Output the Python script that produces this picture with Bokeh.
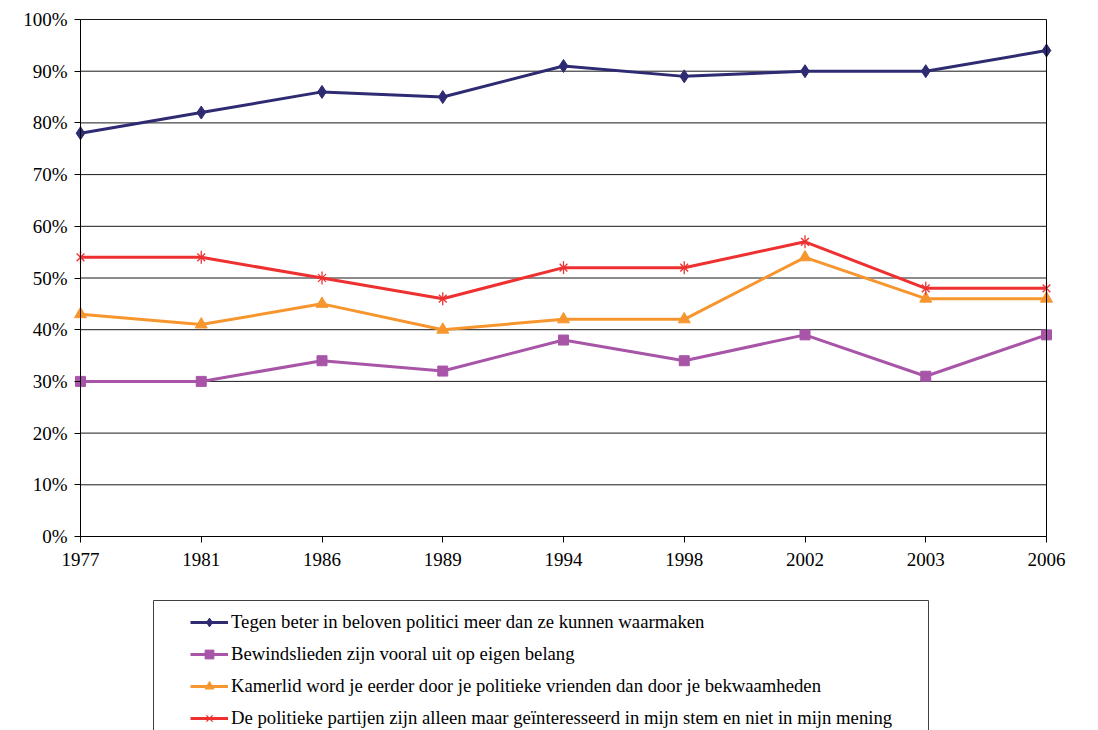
import numpy as np
from bokeh.plotting import figure
from bokeh.models import FixedTicker, Legend, LegendItem, BoxAnnotation, LinearAxis
from bokeh.embed import file_html
from bokeh.resources import INLINE

# Survey years (equally spaced categories on the x axis)
years = ["1977", "1981", "1986", "1989", "1994", "1998", "2002", "2003", "2006"]

# Share agreeing with each statement, in percent
beloven = [78, 82, 86, 85, 91, 89, 90, 90, 94]
eigen_belang = [30, 30, 34, 32, 38, 34, 39, 31, 39]
vrienden = [43, 41, 45, 40, 42, 42, 54, 46, 46]
stem = [54, 54, 50, 46, 52, 52, 57, 48, 48]

statements = [
    "Tegen beter in beloven politici meer dan ze kunnen waarmaken",
    "Bewindslieden zijn vooral uit op eigen belang",
    "Kamerlid word je eerder door je politieke vrienden dan door je bekwaamheden",
    "De politieke partijen zijn alleen maar geïnteresseerd in mijn stem en niet in mijn mening",
]

y_ticks = list(range(0, 101, 10))

FONT = "Liberation Serif"
W, H = 1098, 730
# pixel box of the plotting area inside the page
PL, PR, PT, PB = 80, 1046, 19, 536

x = np.arange(len(years))
n_last = len(years) - 1

# The frame covers the whole canvas so that markers at the edges and the
# legend below are not clipped; ranges are set so the data area sits in the box.
xu = (PR - PL) / n_last
yu = (PB - PT) / 100.0
x_range = (-PL / xu, n_last + (W - PR) / xu)
y_range = (-(H - PB) / yu, 100 + PT / yu)

p = figure(
    width=W, height=H,
    x_range=x_range, y_range=y_range,
    x_axis_type=None, y_axis_type=None,
    output_backend="svg", toolbar_location=None,
    min_border=0,
)
p.background_fill_color = "white"
p.border_fill_color = "white"
p.outline_line_color = None
p.xgrid.visible = False
p.ygrid.visible = False


def style_axis(ax):
    ax.axis_line_color = "black"
    ax.axis_line_width = 1
    ax.major_tick_line_color = "black"
    ax.major_tick_out = 6
    ax.major_tick_in = 0
    ax.minor_tick_line_color = None
    ax.major_label_text_font = FONT
    ax.major_label_text_font_size = "19px"
    ax.major_label_text_color = "black"


xaxis = LinearAxis(fixed_location=0, bounds=(0, n_last),
                   ticker=FixedTicker(ticks=list(x)),
                   major_label_overrides={int(i): y for i, y in zip(x, years)})
style_axis(xaxis)
xaxis.major_label_standoff = 10
p.add_layout(xaxis, "below")

yaxis = LinearAxis(fixed_location=0, bounds=(0, 100),
                   ticker=FixedTicker(ticks=y_ticks),
                   major_label_overrides={t: f"{t}%" for t in y_ticks})
style_axis(yaxis)
yaxis.major_label_standoff = 7
p.add_layout(yaxis, "left")

# right-hand border of the plotting area
raxis = LinearAxis(fixed_location=n_last, bounds=(0, 100),
                   ticker=FixedTicker(ticks=[]))
style_axis(raxis)
raxis.major_tick_out = 0
raxis.major_label_text_font_size = "0px"
p.add_layout(raxis, "right")

# horizontal gridlines across the data area only
p.segment(x0=0, x1=n_last, y0=y_ticks, y1=y_ticks, line_color="black", line_width=1,
          line_alpha=0.9)

# Series
blue = "#2E2B72"
purple = "#A855A8"
orange = "#F7962F"
red = "#EE3030"
lw = 3

l1 = p.line(x, beloven, line_color=blue, line_width=lw)
m1 = p.scatter(x, beloven, marker="diamond", size=13, fill_color=blue, line_color=blue)

l2 = p.line(x, eigen_belang, line_color=purple, line_width=lw)
m2 = p.scatter(x, eigen_belang, marker="square", size=10, fill_color=purple, line_color=purple)

l3 = p.line(x, vrienden, line_color=orange, line_width=lw)
m3 = p.scatter(x, vrienden, marker="triangle", size=12, fill_color=orange, line_color=orange)

l4 = p.line(x, stem, line_color=red, line_width=lw)
m4a = p.scatter(x, stem, marker="x", size=11, fill_color=None, line_color=red, line_width=1.3)
m4b = p.scatter(x, stem, marker="dash", size=13, angle=np.pi / 2, fill_color=None,
                line_color=red, line_width=1.3)

# Legend below the plotting area
legend = Legend(
    items=[
        LegendItem(label=statements[0], renderers=[l1, m1]),
        LegendItem(label=statements[1], renderers=[l2, m2]),
        LegendItem(label=statements[2], renderers=[l3, m3]),
        LegendItem(label=statements[3], renderers=[l4, m4a, m4b]),
    ],
    location=(190, 1),
    orientation="vertical",
    padding=0, margin=0, spacing=10,
    glyph_width=38, glyph_height=22, label_height=22,
    label_standoff=3,
    label_text_font=FONT, label_text_font_size="18.7px",
    label_text_color="black",
    border_line_color=None, background_fill_alpha=0,
)
p.add_layout(legend)

legend_box = BoxAnnotation(
    left=153, right=928, top=H - 600, bottom=-20,
    left_units="screen", right_units="screen", top_units="screen", bottom_units="screen",
    fill_alpha=0, line_color="#404040", line_alpha=1.0, line_width=1,
)
p.add_layout(legend_box)

open("out.html", "w").write(file_html(p, INLINE))
